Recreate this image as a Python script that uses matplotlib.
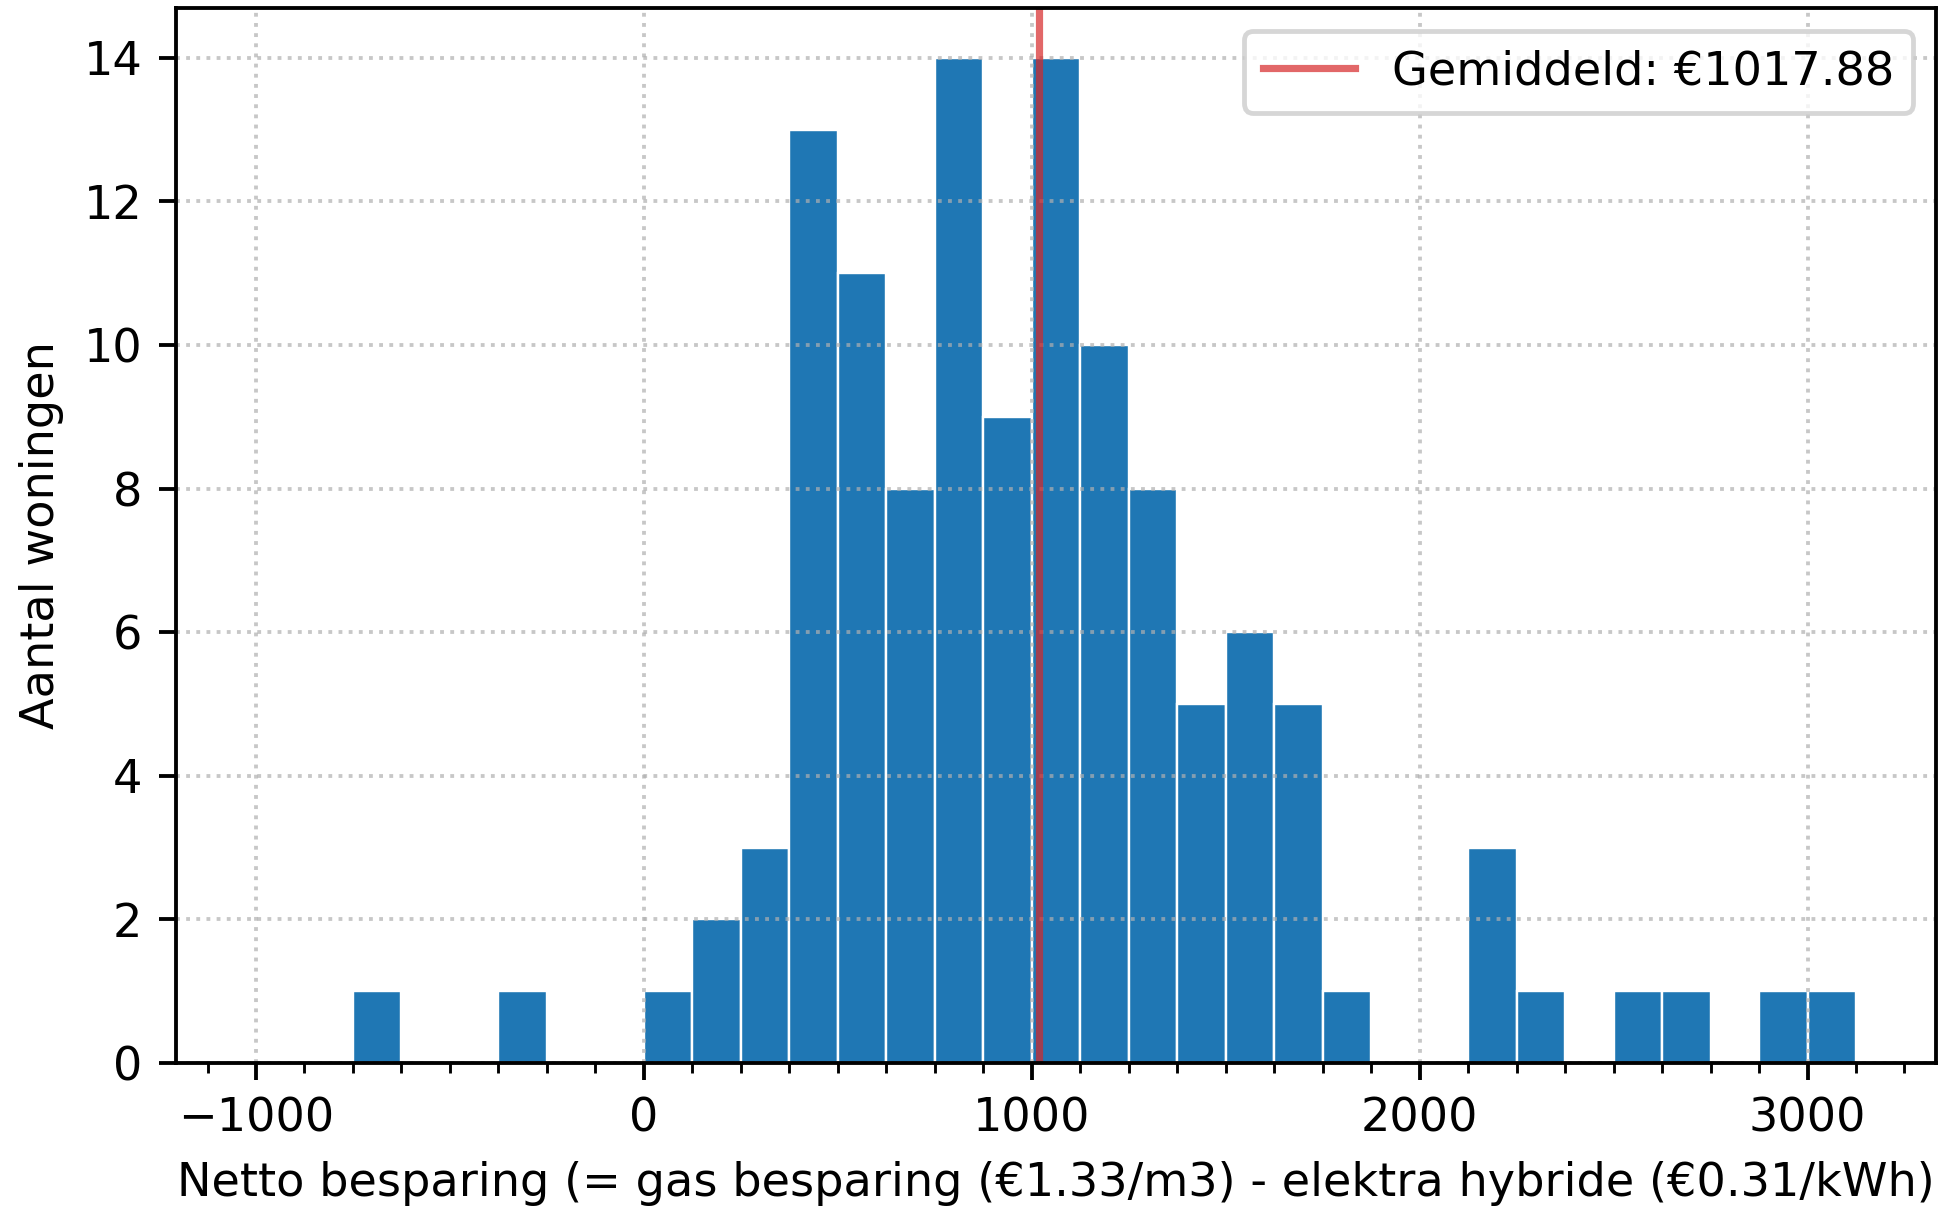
import matplotlib
matplotlib.use("Agg")
import matplotlib.pyplot as plt
from matplotlib.ticker import MultipleLocator
import numpy as np

# Histogram data (bin width 125, starting at -1000)
bin_start = -1000
bin_width = 125
counts = [0, 0, 1, 0, 0, 1, 0, 0, 1, 2, 3, 13, 11, 8, 14, 9, 14, 10, 8, 5, 6, 5,
          1, 0, 0, 3, 1, 0, 1, 1, 0, 1, 1]
mean_value = 1017.88

xlabel = "Netto besparing (= gas besparing (€1.33/m3) - elektra hybride (€0.31/kWh)"
ylabel = "Aantal woningen"

edges = bin_start + bin_width * np.arange(len(counts) + 1)
lefts = edges[:-1]

DPI = 345
FS = 9.65
fig = plt.figure(figsize=(1957 / DPI, 1214 / DPI), dpi=DPI)
ax = fig.add_axes([176 / 1957, 1 - 1063 / 1214, (1936 - 176) / 1957, (1063 - 7.5) / 1214])

ax.hist(lefts, bins=edges, weights=counts, color="#1f77b4", edgecolor="white", linewidth=0.5)
ax.axvline(mean_value, color="tab:red", alpha=0.7, linewidth=1.5,
           label=f"Gemiddeld: €{mean_value:.2f}")

ax.xaxis.set_minor_locator(MultipleLocator(125))
ax.grid(True, linestyle=":", alpha=0.7)
ax.set_xlabel(xlabel, fontsize=FS)
ax.set_ylabel(ylabel, fontsize=FS)
ax.tick_params(labelsize=FS)
ax.legend(loc="upper right", fontsize=FS)

fig.savefig("out.png", dpi=DPI)
